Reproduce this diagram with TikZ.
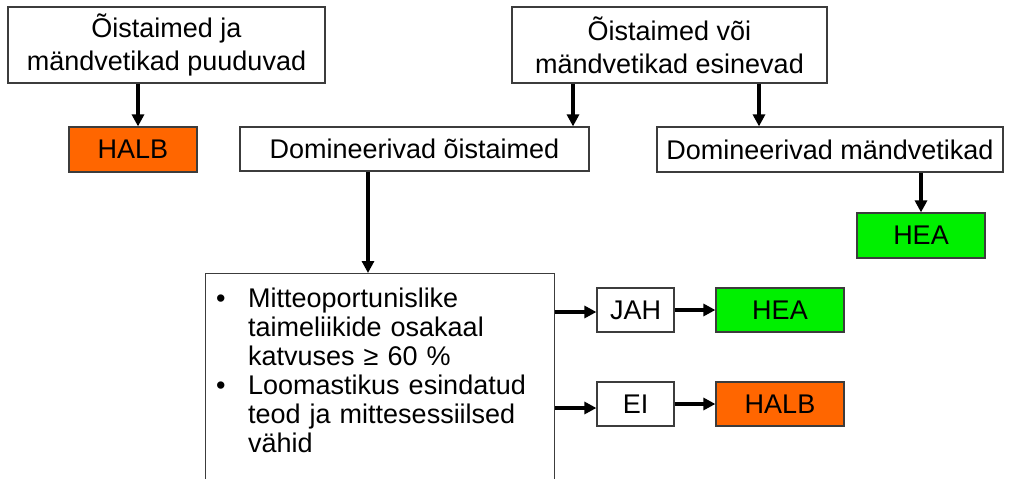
\documentclass[tikz,border=0pt]{standalone}
\usepackage{fontspec}
\setmainfont{Liberation Sans}
\usetikzlibrary{arrows.meta}
\definecolor{framegray}{HTML}{3C3C3C}
\definecolor{badorange}{HTML}{FF6600}
\definecolor{goodgreen}{HTML}{00F000}
\begin{document}
\begin{tikzpicture}[x=1pt,y=-1pt,
  box/.style={draw=framegray,line width=1.2pt,fill=white,inner sep=0pt,
    align=center,font=\fontsize{27}{33}\selectfont},
  halb/.style={box,fill=badorange},
  hea/.style={box,fill=goodgreen},
  arr/.style={line width=3.6pt,-{Triangle[length=12pt,width=12pt]}}]
\useasboundingbox (0,0) rectangle (1010,479);
% top row
\node[box,minimum width=317pt,minimum height=76pt] (b1) at (166.5,45)
  {Õistaimed ja\\mändvetikad puuduvad};
\node[box,minimum width=315pt,minimum height=76pt] (b2) at (669.5,45)
  {Õistaimed või\\mändvetikad esinevad};
% second row
\node[halb,minimum width=128pt,minimum height=45pt] (halb1) at (133,149.5) {HALB};
\node[box,minimum width=349pt,minimum height=44pt] (domo) at (414.5,149) {Domineerivad õistaimed};
\node[box,minimum width=346pt,minimum height=45pt] (domm) at (830,149.5) {Domineerivad mändvetikad};
\node[hea,minimum width=128pt,minimum height=45pt] (hea1) at (921,235.5) {HEA};
% criteria box, running past the lower edge
\node[box,minimum width=349pt,minimum height=230pt,anchor=north west] (crit) at (205,273) {};
\node[anchor=base west,inner sep=0pt,text width=330pt,align=left,
  font=\fontsize{27}{29}\selectfont] (crittxt) at (216,307)
  {\makebox[32pt][l]{•}Mitteoportunislike\\
   \hspace*{32pt}taimeliikide osakaal\\
   \hspace*{32pt}katvuses ≥ 60 \%\\
   \makebox[32pt][l]{•}Loomastikus esindatud\\
   \hspace*{32pt}teod ja mittesessiilsed\\
   \hspace*{32pt}vähid};
% answers
\node[box,minimum width=77pt,minimum height=44pt] (jah) at (635.5,310) {JAH};
\node[hea,minimum width=128pt,minimum height=44pt] (hea2) at (780,310) {HEA};
\node[box,minimum width=77pt,minimum height=44pt] (ei) at (635.5,404) {EI};
\node[halb,minimum width=128pt,minimum height=44pt] (halb2) at (780,404) {HALB};
% connectors
\draw[arr] ([xshift=5pt]halb1.north |- b1.south) -- ([xshift=5pt]halb1.north);
\draw[arr] ([xshift=158.5pt]domo.north |- b2.south) -- ([xshift=158.5pt]domo.north);
\draw[arr] ([xshift=-71pt]domm.north |- b2.south) -- ([xshift=-71pt]domm.north);
\draw[arr] (hea1.north |- domm.south) -- (hea1.north);
\draw[arr] ([xshift=-46.5pt]domo.south) -- ([xshift=-46.5pt]domo.south |- crit.north);
\draw[arr] ([yshift=-2pt]crit.east |- jah.west) -- ([yshift=-2pt]jah.west);
\draw[arr] ([yshift=-4pt]crit.east |- ei.west) -- ([yshift=-4pt]ei.west);
\draw[arr] (jah.east) -- (hea2.west);
\draw[arr] (ei.east) -- (halb2.west);
\end{tikzpicture}
\end{document}
